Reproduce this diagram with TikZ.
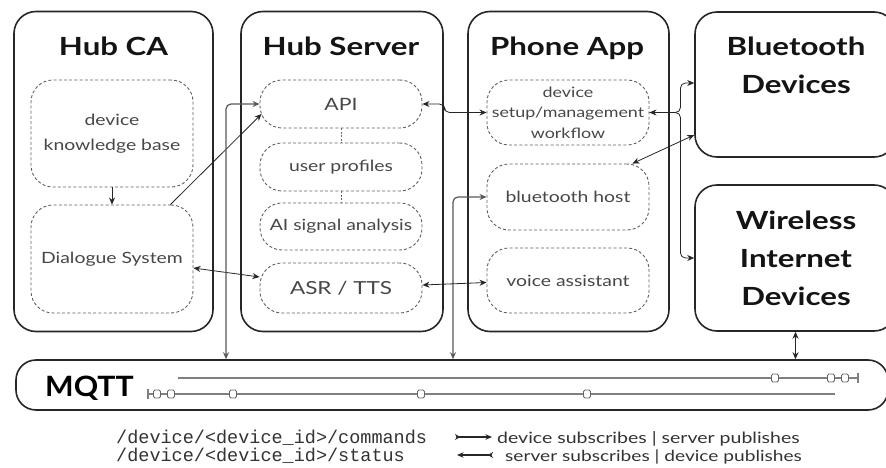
\documentclass[tikz,border=0pt]{standalone}
\usepackage{fontspec}
\setmainfont[FakeStretch=1.25]{Lato}
\newfontfamily\mqfont[FakeStretch=1.08]{Lato}
\newfontfamily\legmono{Liberation Mono}
\usetikzlibrary{arrows.meta,calc}
\begin{document}
\begin{tikzpicture}[x=1pt,y=-1pt,
  bigbox/.style={draw=black!85, line width=1.6pt, rounded corners=22pt, inner sep=0pt},
  innerbox/.style={draw=black!62, dash pattern=on 3pt off 2.2pt, line width=0.9pt, rounded corners=22pt, inner sep=0pt, text=black!72, align=center, minimum width=162pt},
  titletext/.style={font=\bfseries\fontsize{25}{38}\selectfont, text=black!92, align=center, inner sep=0pt},
  conn/.style={draw=black!85, line width=0.8pt, rounded corners=5pt, >={Stealth[length=7pt,width=6pt]}},
  busconn/.style={draw=black!65, line width=1.2pt, rounded corners=5pt, >={Stealth[length=7pt,width=6pt]}},
  link/.style={draw=black!60, dash pattern=on 2pt off 1.5pt, line width=0.8pt},
  topic/.style={draw=black!50, line width=1.3pt},
  topicsq/.style={draw=black!60, fill=white, line width=0.9pt, rounded corners=1.5pt},
  legtext/.style={anchor=base west, inner sep=0pt, text=black!80}
]
\useasboundingbox (0,0) rectangle (886,468);
\clip (0,0) rectangle (886,468);
\fill[white] (0,0) rectangle (886,468);

% big boxes
\node[bigbox, minimum width=199pt, minimum height=320pt] (hubca) at (113.5,171.5) {};
\node[bigbox, minimum width=202pt, minimum height=320pt] (hubsrv) at (342,171.5) {};
\node[bigbox, minimum width=201pt, minimum height=320pt] (phone) at (568.5,171.5) {};
\node[bigbox, minimum width=201pt, minimum height=145pt] (bt) at (795.5,84.5) {};
\node[bigbox, minimum width=201pt, minimum height=146pt] (wi) at (795.5,258) {};
\node[bigbox, rounded corners=20pt, minimum width=872pt, minimum height=50pt] (mqtt) at (452,385) {};

% titles (anchor base = baseline of last line)
\node[titletext, anchor=base] (tca) at (113.5,56) {Hub CA};
\node[titletext, anchor=base] (tsrv) at (341,56) {Hub Server};
\node[titletext, anchor=base] (tph) at (567,56) {Phone App};
\node[titletext, anchor=base] (tbt) at (796,94) {Bluetooth\\Devices};
\node[titletext, anchor=base] (twi) at (796,305) {Wireless\\Internet\\Devices};
\node[anchor=base west, inner sep=0pt, font=\mqfont\bfseries\fontsize{28}{30}\selectfont] (tmq) at (45,396) {MQTT};

% inner boxes: Hub CA
\node[innerbox, minimum height=107pt, font=\fontsize{15.5}{25}\selectfont] (dkb) at (112,133.5) {device\\knowledge base};
\node[innerbox, minimum height=108pt, font=\fontsize{15.5}{20}\selectfont] (ds) at (112,259) {Dialogue System};
% Hub Server
\node[innerbox, minimum height=48pt, font=\fontsize{17}{22}\selectfont] (api) at (341,104) {API};
\node[innerbox, minimum height=48pt, font=\fontsize{15.5}{20}\selectfont] (up) at (341,167) {user profiles};
\node[innerbox, minimum height=47pt, font=\fontsize{15.5}{20}\selectfont] (ai) at (341,226.5) {AI signal analysis};
\node[innerbox, minimum height=50pt, font=\fontsize{18}{22}\selectfont] (asr) at (341,288) {ASR / TTS};
% Phone App
\node[innerbox, minimum height=65pt, font=\fontsize{14.3}{20.5}\selectfont] (dsm) at (568,112.5) {device\\setup/management\\workflow};
\node[innerbox, minimum height=66pt, font=\fontsize{15.5}{20}\selectfont] (bth) at (568,197) {bluetooth host};
\node[innerbox, minimum height=65pt, font=\fontsize{15.5}{20}\selectfont] (va) at (568,280.5) {voice assistant};

% dashed links
\draw[link] (api.south) -- (up.north);
\draw[link] (up.south) -- (ai.north);

% connectors
\draw[conn,->] (dkb.south) -- (ds.north);
\draw[conn,->] ([xshift=-23pt]ds.north east) -- ([xshift=2pt,yshift=-10pt]api.west);
\draw[conn,<->] ([yshift=-9pt]ds.east) -- ([yshift=11pt]asr.west);
\coordinate (mA) at (226,0);
\coordinate (mB) at (453,0);
\draw[busconn,<->] (api.west) -| (mA |- mqtt.north);
\draw[busconn,<->] (bth.west) -| (mB |- mqtt.north);
\draw[conn,<->] (api.east) -- ++(22,0) |- (dsm.west);
\draw[conn,<->] ([yshift=3pt]asr.east) -- ([yshift=-2pt]va.west);
\draw[conn,<->] (dsm.east) -- ++(31,0) |- ([yshift=1.5pt]bt.west);
\draw[conn,->] (dsm.east) -- ++(31,0) |- (wi.west);
\draw[conn,<->] ([xshift=-17pt]bth.north east) -- ([yshift=-50.5pt]bt.west);
\draw[conn,<->] (wi.south) -- (wi.south |- mqtt.north);

% topic lines
\draw[topic, line width=2pt] (178,378) -- (858,378);
\draw[topic] (858,373) -- (858,383);
\foreach \x in {775,831,845}
  \draw[topicsq] (\x-3.5,374) rectangle (\x+3.5,382);
\draw[topic] (148,394) -- (835,394);
\draw[topic] (148,389) -- (148,399);
\foreach \x in {157,171,233,421,587}
  \draw[topicsq] (\x-3.5,390) rectangle (\x+3.5,398);

% legend
\node[legtext, font=\legmono\fontsize{18.5}{20}\selectfont] (l1) at (116,443) {/device/<device\_id>/commands};
\node[legtext, font=\legmono\fontsize{18.5}{20}\selectfont] (l2) at (116,461) {/device/<device\_id>/status};
\coordinate (a1s) at (455,437);
\coordinate (a1e) at (492,437);
\coordinate (a2s) at (457,455);
\coordinate (a2e) at (493,455);
\draw[line width=1.1pt, black!85, {Stealth[reversed,length=5pt,width=6pt]}-{Stealth[length=6.5pt,width=5.5pt]}] (a1s) -- (a1e);
\draw[line width=1.1pt, black!85, {Stealth[length=6.5pt,width=5.5pt]}-{Stealth[reversed,length=5pt,width=6pt]}] (a2s) -- (a2e);
\node[legtext, font=\fontsize{15.6}{18}\selectfont] (d1) at (497,443) {device subscribes \textbar\ server publishes};
\node[legtext, font=\fontsize{15.3}{18}\selectfont] (d2) at (505,461) {server subscribes \textbar\ device publishes};
\end{tikzpicture}
\end{document}
